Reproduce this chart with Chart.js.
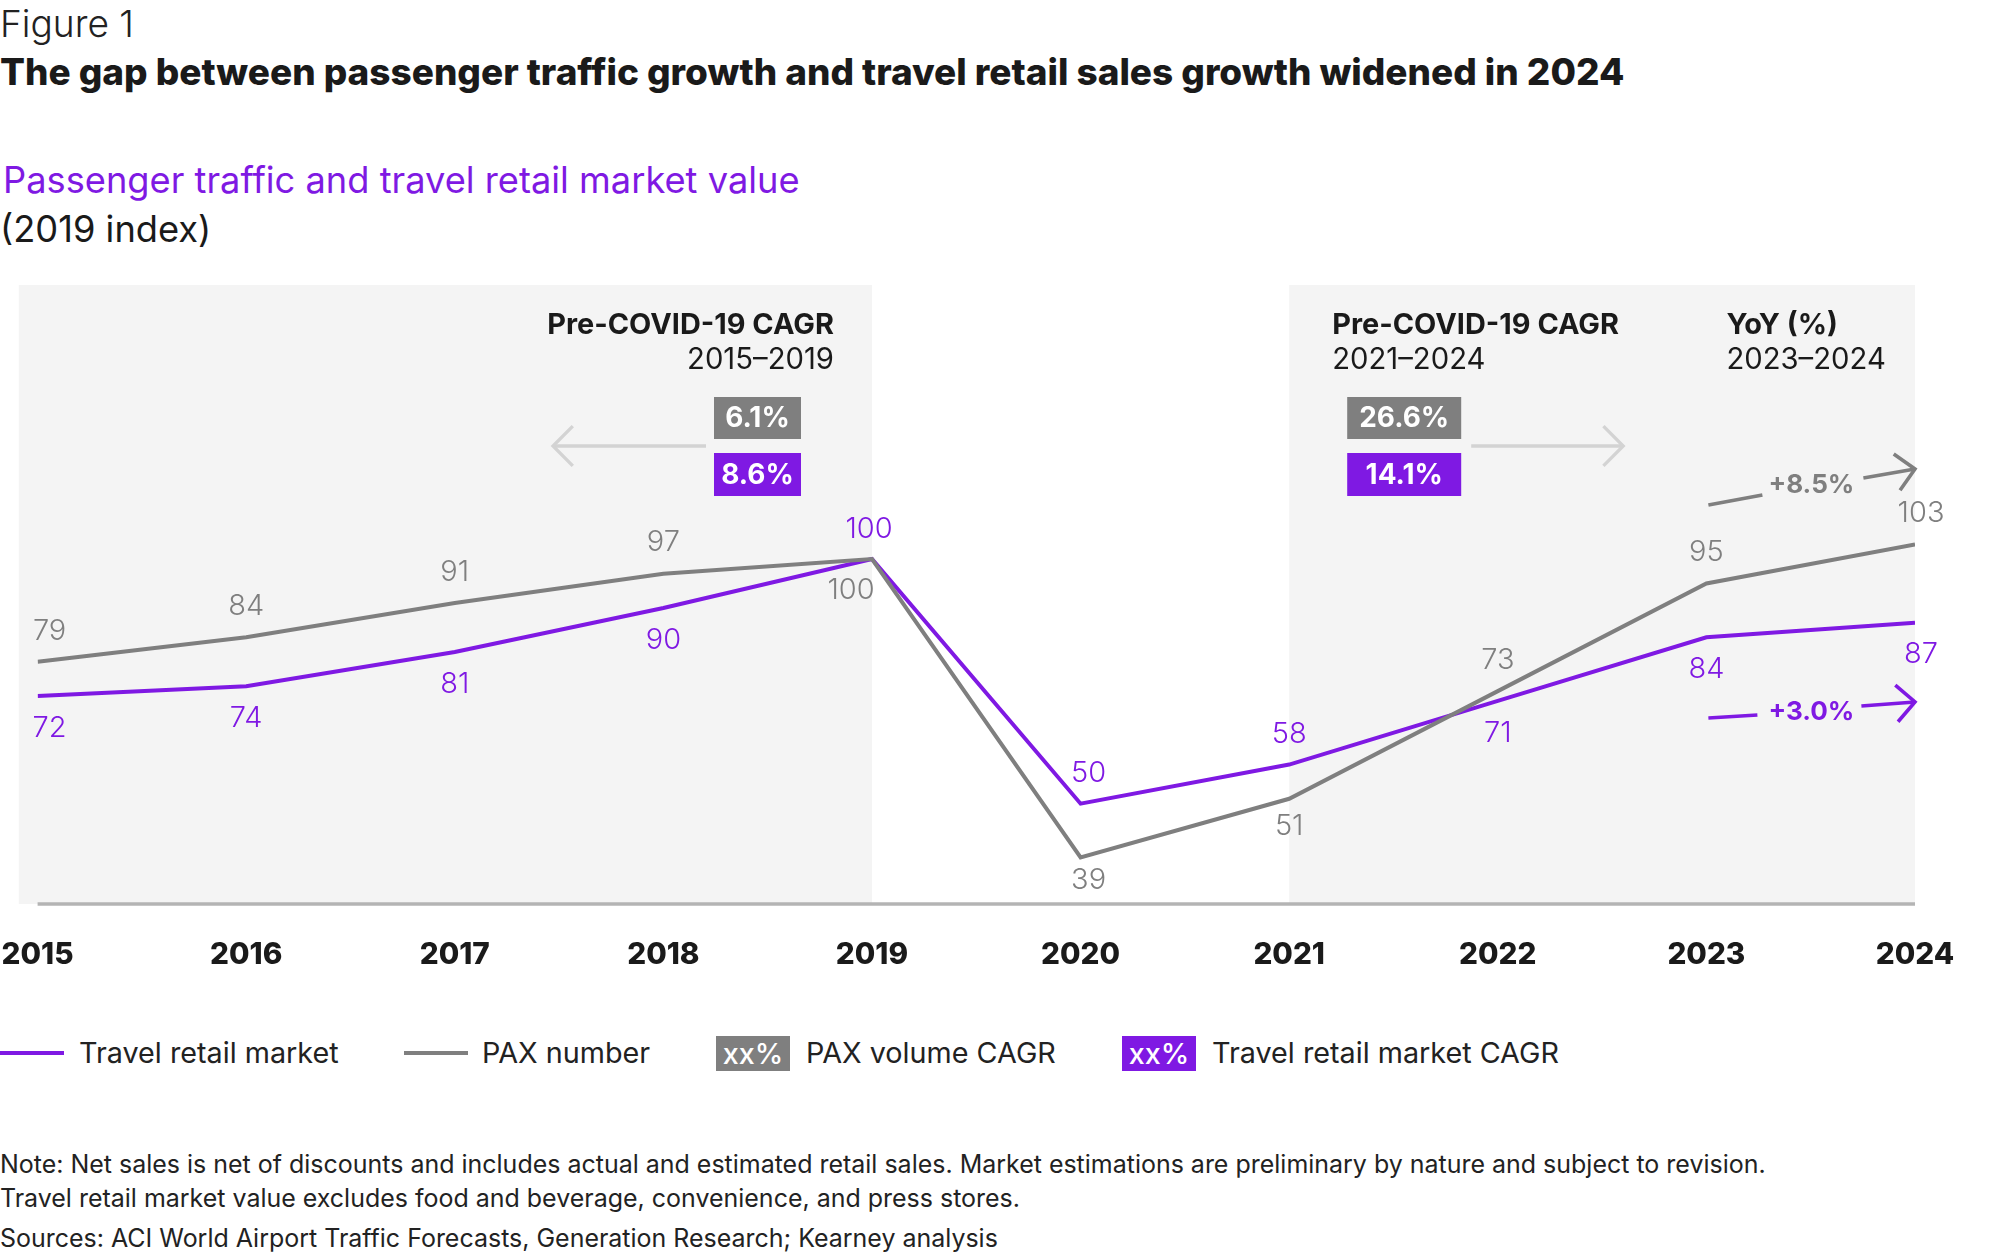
<!DOCTYPE html>
<html>
<head>
<meta charset="utf-8">
<title>Passenger traffic and travel retail market value</title>
<script src="https://cdn.jsdelivr.net/npm/chart.js@4.4.1/dist/chart.umd.min.js"></script>
<style>
  html, body { margin: 0; padding: 0; background: #fff; }
  body { width: 2000px; height: 1257px; position: relative; overflow: hidden; color: #1d1d1d; }
  .txt { position: absolute; white-space: nowrap; margin: 0; }
  #chart-wrap { position: absolute; left: 0; top: 270px; width: 2000px; height: 720px; }
  .key-line { position: absolute; height: 4px; top: 1051px; width: 64px; }
  .key-box { position: absolute; top: 1036px; width: 74px; height: 35px; color: #fff;
             display: flex; align-items: center; justify-content: center; }
</style>
</head>
<body>

<div class="txt" id="fig-label">Figure 1</div>
<div class="txt" id="fig-title">The gap between passenger traffic growth and travel retail sales growth widened in 2024</div>
<div class="txt" id="fig-subtitle">Passenger traffic and travel retail market value</div>
<div class="txt" id="fig-unit">(2019 index)</div>

<div id="chart-wrap"><canvas id="trafficChart"></canvas></div>

<!-- Legend -->
<div class="key-line" style="left:0;background:#7f19e3"></div>
<div class="txt legend-text" data-x="79">Travel retail market</div>
<div class="key-line" style="left:404px;background:#7f7f7f"></div>
<div class="txt legend-text" data-x="482">PAX number</div>
<div class="key-box legend-box" style="left:716px;background:#7f7f7f">xx%</div>
<div class="txt legend-text" data-x="806">PAX volume CAGR</div>
<div class="key-box legend-box" style="left:1122px;background:#7f19e3">xx%</div>
<div class="txt legend-text" data-x="1212">Travel retail market CAGR</div>

<!-- Notes -->
<div class="txt note-text" data-y="1173">Note: Net sales is net of discounts and includes actual and estimated retail sales. Market estimations are preliminary by nature and subject to revision.</div>
<div class="txt note-text" data-y="1207">Travel retail market value excludes food and beverage, convenience, and press stores.</div>
<div class="txt note-text" data-y="1247">Sources: ACI World Airport Traffic Forecasts, Generation Research; Kearney analysis</div>

<script>
// Chart data (2019 = 100)
const years = [2015, 2016, 2017, 2018, 2019, 2020, 2021, 2022, 2023, 2024];
const retailIndex = [72, 74, 81, 90, 100, 50, 58, 71, 84, 87];
const paxIndex = [79, 84, 91, 97, 100, 39, 51, 73, 95, 103];

// Growth callouts: [PAX, travel retail]
const preCovidCagr = ['6.1%', '8.6%'];    // 2015–2019
const recoveryCagr = ['26.6%', '14.1%'];  // 2021–2024
const yoyChange = ['+8.5%', '+3.0%'];     // 2023–2024

// Which side of the line each value label sits on
const retailLabelSide = ['below', 'below', 'below', 'below', 'above', 'above', 'above', 'below', 'below', 'below'];
const paxLabelSide = ['above', 'above', 'above', 'above', 'below', 'below', 'below', 'above', 'above', 'above'];

const PURPLE = '#7f19e3';
const GREY = '#7f7f7f';
const LIGHT = '#d3d3d3';
const FONT = 'Inter, "Noto Sans", sans-serif';

// Text sizing helpers
const measure = document.createElement('canvas').getContext('2d');

function fitSize(text, weight, width) {
  measure.font = `${weight} 100px ${FONT}`;
  return 100 * width / measure.measureText(text).width;
}

function placeText(el, x, baseline, size, weight, color) {
  measure.font = `${weight} ${size}px ${FONT}`;
  const m = measure.measureText('Hg');
  el.style.font = `${weight} ${size}px ${FONT}`;
  el.style.lineHeight = (m.fontBoundingBoxAscent + m.fontBoundingBoxDescent) + 'px';
  el.style.left = x + 'px';
  el.style.top = (baseline - m.fontBoundingBoxAscent) + 'px';
  if (color) el.style.color = color;
}

// Header
placeText(document.getElementById('fig-label'), 0, 37, fitSize('Figure 1', 300, 134), 300, '#222');
placeText(document.getElementById('fig-title'), 0, 85,
  fitSize(document.getElementById('fig-title').textContent, 800, 1625), 800, '#1a1a1a');
const subSize = fitSize('Passenger traffic and travel retail market value', 400, 797);
placeText(document.getElementById('fig-subtitle'), 3, 193, subSize, 400, PURPLE);
placeText(document.getElementById('fig-unit'), 0, 242, subSize, 400, '#1a1a1a');

// Legend
const legendSize = fitSize('Travel retail market CAGR', 400, 347);
document.querySelectorAll('.legend-text').forEach(el => {
  placeText(el, +el.dataset.x, 1063, legendSize, 400, '#222');
});
document.querySelectorAll('.legend-box').forEach(el => {
  el.style.font = `500 ${legendSize}px ${FONT}`;
});

// Notes
const noteSize = fitSize(document.querySelector('.note-text').textContent, 400, 1767);
document.querySelectorAll('.note-text').forEach(el => {
  placeText(el, 0, +el.dataset.y, noteSize, 400, '#222');
});

// Canvas text sizes
const sz = {
  head: fitSize('Pre-COVID-19 CAGR', 700, 287),
  period: fitSize('2015–2019', 400, 147),
  year: fitSize('2015', 800, 72),
  box: fitSize('26.6%', 700, 90),
  yoy: fitSize('+8.5%', 700, 86),
  value: 29
};

function drawArrow(ctx, x1, y1, x2, y2, color, width, head) {
  const a = Math.atan2(y2 - y1, x2 - x1);
  ctx.strokeStyle = color;
  ctx.lineWidth = width;
  ctx.lineCap = 'butt';
  ctx.beginPath();
  ctx.moveTo(x1, y1);
  ctx.lineTo(x2, y2);
  ctx.stroke();
  if (head) {
    ctx.beginPath();
    ctx.moveTo(x2 + head * Math.cos(a + Math.PI * 0.75), y2 + head * Math.sin(a + Math.PI * 0.75));
    ctx.lineTo(x2, y2);
    ctx.lineTo(x2 + head * Math.cos(a - Math.PI * 0.75), y2 + head * Math.sin(a - Math.PI * 0.75));
    ctx.stroke();
  }
}

function drawSegment(ctx, x1, y1, x2, y2, color, width) {
  drawArrow(ctx, x1, y1, x2, y2, color, width, 0);
}

function drawBox(ctx, left, top, w, h, fill, label) {
  ctx.fillStyle = fill;
  ctx.fillRect(left, top, w, h);
  ctx.fillStyle = '#fff';
  ctx.font = `700 ${sz.box}px ${FONT}`;
  ctx.textAlign = 'center';
  ctx.textBaseline = 'middle';
  ctx.fillText(label, left + w / 2, top + h / 2 + 1);
}

// Shaded periods, baseline and all annotations
const chartDecor = {
  id: 'chartDecor',
  beforeDatasetsDraw(chart) {
    const { ctx, chartArea: area, scales: { x } } = chart;
    ctx.save();
    ctx.fillStyle = '#f4f4f4';
    const l1 = x.getPixelForValue(years[0] - 0.09);
    const r1 = x.getPixelForValue(2019);
    ctx.fillRect(l1, area.top, r1 - l1, area.bottom - area.top);
    const l2 = x.getPixelForValue(2021);
    const r2 = x.getPixelForValue(2024);
    ctx.fillRect(l2, area.top, r2 - l2, area.bottom - area.top);

    ctx.strokeStyle = '#b4b4b4';
    ctx.lineWidth = 3.5;
    ctx.beginPath();
    ctx.moveTo(x.getPixelForValue(years[0]), area.bottom);
    ctx.lineTo(x.getPixelForValue(years[years.length - 1]), area.bottom);
    ctx.stroke();
    ctx.restore();
  },
  afterDatasetsDraw(chart) {
    const { ctx, chartArea: area, scales: { x, y } } = chart;
    const top = area.top;
    ctx.save();

    // Year labels
    ctx.font = `800 ${sz.year}px ${FONT}`;
    ctx.fillStyle = '#1a1a1a';
    ctx.textAlign = 'center';
    ctx.textBaseline = 'alphabetic';
    years.forEach(yr => ctx.fillText(String(yr), x.getPixelForValue(yr), area.bottom + 60));

    // Value labels
    ctx.font = `300 ${sz.value}px ${FONT}`;
    ctx.textBaseline = 'middle';
    const nudgeX = i => (i === 0 ? 12 : i === years.length - 1 ? 6 : years[i] === 2020 ? 8 : 0);
    retailIndex.forEach((v, i) => {
      const dy = retailLabelSide[i] === 'above' ? -30 : 32;
      ctx.fillStyle = PURPLE;
      ctx.fillText(String(v), x.getPixelForValue(years[i]) + nudgeX(i) - (v === 100 ? 3 : 0), y.getPixelForValue(v) + dy);
    });
    paxIndex.forEach((v, i) => {
      let dy = paxLabelSide[i] === 'above' ? -31 : 31;
      if (years[i] === 2020) dy = 23;
      if (years[i] === 2021) dy = 27;
      ctx.fillStyle = GREY;
      ctx.fillText(String(v), x.getPixelForValue(years[i]) + nudgeX(i) - (v === 100 ? 21 : 0), y.getPixelForValue(v) + dy);
    });

    const x19 = x.getPixelForValue(2019);
    const x21 = x.getPixelForValue(2021);
    const x23 = x.getPixelForValue(2023);
    const x24 = x.getPixelForValue(2024);

    // Pre-COVID block (2015–2019)
    ctx.textBaseline = 'alphabetic';
    ctx.fillStyle = '#1a1a1a';
    ctx.textAlign = 'right';
    ctx.font = `700 ${sz.head}px ${FONT}`;
    ctx.fillText('Pre-COVID-19 CAGR', x19 - 38, top + 49);
    ctx.font = `400 ${sz.period}px ${FONT}`;
    ctx.fillText('2015–2019', x19 - 38, top + 84);
    drawBox(ctx, x19 - 158, top + 112, 87, 42, GREY, preCovidCagr[0]);
    drawBox(ctx, x19 - 158, top + 168, 87, 43, PURPLE, preCovidCagr[1]);
    drawArrow(ctx, x19 - 166, top + 161, x19 - 319, top + 161, LIGHT, 3.3, 28);

    // Recovery block (2021–2024)
    ctx.textBaseline = 'alphabetic';
    ctx.fillStyle = '#1a1a1a';
    ctx.textAlign = 'left';
    ctx.font = `700 ${sz.head}px ${FONT}`;
    ctx.fillText('Pre-COVID-19 CAGR', x21 + 43, top + 49);
    ctx.font = `400 ${sz.period}px ${FONT}`;
    ctx.fillText('2021–2024', x21 + 43, top + 84);
    drawBox(ctx, x21 + 58, top + 112, 114, 42, GREY, recoveryCagr[0]);
    drawBox(ctx, x21 + 58, top + 168, 114, 43, PURPLE, recoveryCagr[1]);
    drawArrow(ctx, x21 + 182, top + 161, x21 + 334, top + 161, LIGHT, 3.3, 28);

    // YoY block
    ctx.textBaseline = 'alphabetic';
    ctx.fillStyle = '#1a1a1a';
    ctx.textAlign = 'left';
    ctx.font = `700 ${sz.head}px ${FONT}`;
    ctx.fillText('YoY (%)', x23 + 20, top + 49);
    ctx.font = `400 ${sz.period}px ${FONT}`;
    ctx.fillText('2023–2024', x23 + 20, top + 84);

    ctx.font = `700 ${sz.yoy}px ${FONT}`;
    ctx.textAlign = 'center';
    // PAX
    drawSegment(ctx, x23 + 2, top + 220, x23 + 56, top + 210, GREY, 3.6);
    ctx.fillStyle = GREY;
    ctx.fillText(yoyChange[0], x23 + 105, top + 208);
    drawArrow(ctx, x23 + 157, top + 193, x24, top + 184, GREY, 3.6, 26);
    // Travel retail
    drawSegment(ctx, x23 + 2, top + 433, x23 + 51, top + 430, PURPLE, 3.6);
    ctx.fillStyle = PURPLE;
    ctx.fillText(yoyChange[1], x23 + 105, top + 435);
    drawArrow(ctx, x23 + 155, top + 421, x24, top + 417, PURPLE, 3.6, 26);

    ctx.restore();
  }
};

const toPoints = values => values.map((v, i) => ({ x: years[i], y: v }));

new Chart(document.getElementById('trafficChart').getContext('2d'), {
  type: 'line',
  data: {
    datasets: [
      {
        label: 'PAX number',
        data: toPoints(paxIndex),
        borderColor: GREY,
        borderWidth: 4,
        pointRadius: 0,
        tension: 0
      },
      {
        label: 'Travel retail market',
        data: toPoints(retailIndex),
        borderColor: PURPLE,
        borderWidth: 4,
        pointRadius: 0,
        tension: 0
      }
    ]
  },
  options: {
    responsive: true,
    maintainAspectRatio: false,
    animation: false,
    events: [],
    layout: {
      padding: { left: 37.6, right: 85, top: 15, bottom: 86 }
    },
    plugins: {
      legend: { display: false },
      tooltip: { enabled: false }
    },
    scales: {
      x: { type: 'linear', min: 2015, max: 2024, display: false },
      y: { min: 29.5, max: 156, display: false }
    }
  },
  plugins: [chartDecor]
});
</script>
</body>
</html>
